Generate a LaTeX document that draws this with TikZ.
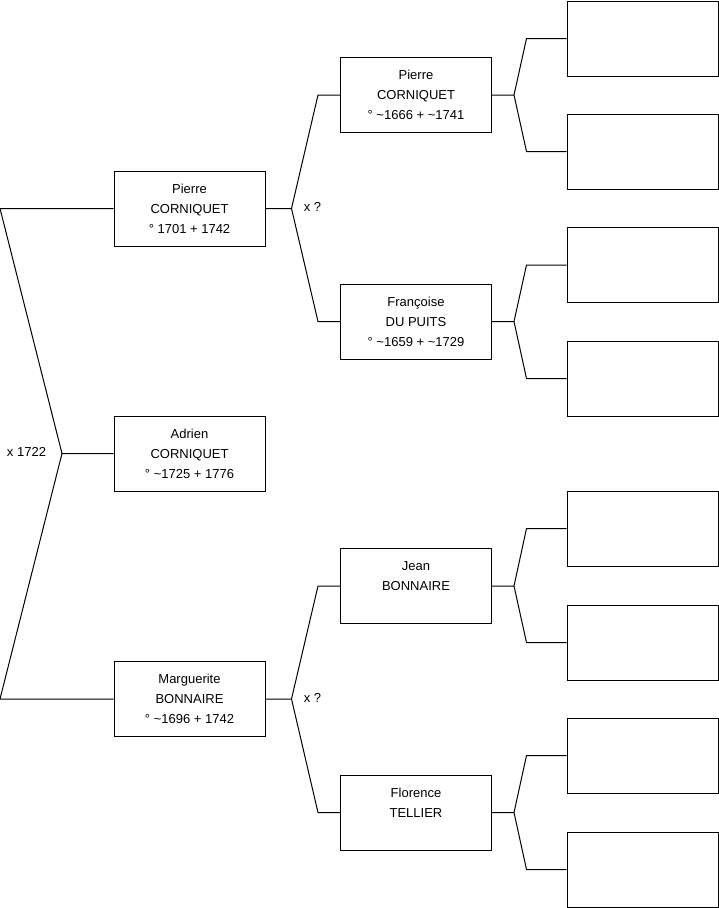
\documentclass[tikz,border=0pt]{standalone}
\usepackage{fontspec}
\setmainfont{Liberation Sans}
\usepackage{tikz}
\usetikzlibrary{positioning}

\begin{document}
\begin{tikzpicture}[x=1pt,y=-1pt,line width=1pt,font=\fontsize{13}{20}\selectfont,
  person/.style={draw,minimum width=151pt,minimum height=75pt,align=center,inner sep=0pt}]
\useasboundingbox (0,0) rectangle (719,908);
% generation 1
\node[person] (pc) at (189.5,208.5) {Pierre\\CORNIQUET\\° 1701 + 1742};
\node[person] (ac) at (189.5,453.5) {Adrien\\CORNIQUET\\° \textasciitilde1725 + 1776};
\node[person] (mb) at (189.5,699) {Marguerite\\BONNAIRE\\° \textasciitilde1696 + 1742};
% generation 2
\node[person] (ppc) at (416,95) {Pierre\\CORNIQUET\\° \textasciitilde1666 + \textasciitilde1741};
\node[person] (fdp) at (416,321.5) {Françoise\\DU PUITS\\° \textasciitilde1659 + \textasciitilde1729};
\node[person] (jb) at (416,586) {Jean\\BONNAIRE\\\mbox{}};
\node[person] (ft) at (416,812.5) {Florence\\TELLIER\\\mbox{}};
% generation 3 (empty)
\node[person] (g1) at (642.5,38.5) {};
\node[person] (g2) at (642.5,151.5) {};
\node[person] (g3) at (642.5,265) {};
\node[person] (g4) at (642.5,378.5) {};
\node[person] (g5) at (642.5,528.5) {};
\node[person] (g6) at (642.5,642.5) {};
\node[person] (g7) at (642.5,755.5) {};
\node[person] (g8) at (642.5,869.5) {};
% marriage labels
\node (x0) at (26.5,451.5) {x 1722};
\node (x1) at (312.5,207) {x ?};
\node (x2) at (312.5,698) {x ?};
% connectors
\coordinate (v0) at (62,453.5);
\draw (pc.west) -- (0,208.5) coordinate (c0) -- (v0) -- (ac.west);
\draw (v0) -- (0,699) coordinate (c1) -- (mb.west);
\foreach \p/\a/\b in {pc/ppc/fdp,mb/jb/ft}
  \draw (\p.east) -- ++(26,0) coordinate (v\p)
        (\a.west) -- ++(-22,0) -- (v\p) -- ([xshift=-22pt]\b.west) -- (\b.west);
\foreach \p/\a/\b in {ppc/g1/g2,fdp/g3/g4,jb/g5/g6,ft/g7/g8}
  \draw (\p.east) -- ++(22,0) coordinate (v\p)
        (\a.west) -- ++(-40,0) -- (v\p) -- ([xshift=-40pt]\b.west) -- (\b.west);
\end{tikzpicture}
\end{document}
